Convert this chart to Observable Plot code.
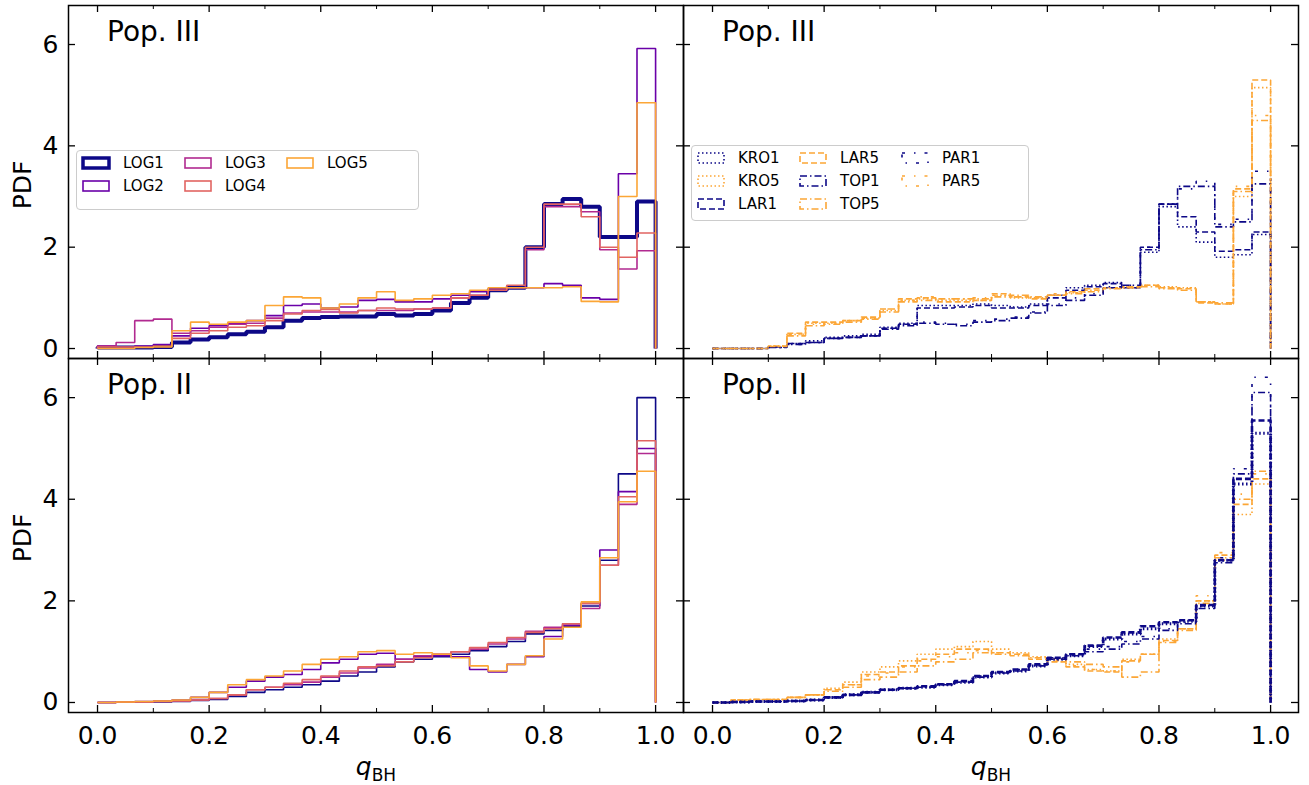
<!DOCTYPE html>
<html>
<head>
<meta charset="utf-8">
<script src="https://cdn.jsdelivr.net/npm/d3@7"></script>
<script src="https://cdn.jsdelivr.net/npm/@observablehq/plot@0.6"></script>
<style>
body { margin: 0; background: #fff; font-family: "DejaVu Sans", sans-serif; }
#wrap { position: relative; width: 1309px; height: 785px; }
.panel { position: absolute; }
.lbl { position: absolute; font-size: 25px; color: #000; }
.pop { font-size: 28px; }
.legend { position: absolute; background: rgba(255,255,255,0.85); border: 1px solid #ccc; border-radius: 4px; font-size: 15px; }
.legend .it { position: absolute; display: flex; align-items: center; gap: 12px; }
</style>
</head>
<body>
<div id="wrap"></div>
<script>
// 30 bins between 0 and 1
const nBins = 30;

// Pop. III, left panel
const log1_III = [0.02,0.02,0.02,0.03,0.12,0.18,0.22,0.28,0.33,0.42,0.55,0.60,0.62,0.63,0.63,0.68,0.65,0.68,0.75,0.90,1.00,1.15,1.20,2.00,2.85,2.95,2.80,2.20,2.20,2.90];
const log2_III = [0.05,0.03,0.05,0.08,0.25,0.40,0.45,0.50,0.55,0.65,0.85,0.88,0.80,0.82,0.95,0.97,0.92,0.92,0.98,1.05,1.12,1.18,1.20,1.20,1.28,1.25,1.00,0.97,3.45,5.92];
const log3_III = [0.05,0.12,0.55,0.58,0.30,0.35,0.42,0.48,0.50,0.60,0.70,0.72,0.72,0.72,0.75,0.75,0.75,0.78,0.80,1.00,1.05,1.15,1.20,1.95,2.80,2.80,2.70,1.95,1.57,1.93];
const log4_III = [0.03,0.03,0.03,0.05,0.20,0.30,0.35,0.42,0.45,0.55,0.68,0.75,0.77,0.70,0.75,0.80,0.78,0.78,0.80,1.00,1.05,1.15,1.25,2.00,2.85,2.85,2.60,2.00,1.80,2.28];
const log5_III = [0.00,0.00,0.02,0.03,0.35,0.52,0.48,0.52,0.55,0.85,1.02,1.00,0.80,0.88,1.00,1.12,0.95,0.98,1.05,1.08,1.15,1.20,1.20,1.20,1.20,1.22,0.93,0.92,3.00,4.85];

// Pop. II, left panel
const log1_II = [0.00,0.01,0.01,0.01,0.02,0.04,0.06,0.12,0.20,0.25,0.30,0.35,0.42,0.52,0.60,0.70,0.80,0.85,0.90,0.95,1.02,1.10,1.20,1.35,1.42,1.50,1.90,2.80,4.50,6.00];
const log2_II = [0.00,0.01,0.02,0.03,0.05,0.10,0.20,0.30,0.42,0.50,0.55,0.65,0.78,0.85,0.95,0.97,0.85,0.90,0.92,0.90,0.65,0.60,0.75,0.90,1.30,1.52,1.95,3.00,4.15,5.00];
const log3_II = [0.00,0.01,0.01,0.02,0.03,0.05,0.08,0.15,0.25,0.30,0.35,0.40,0.50,0.58,0.68,0.75,0.85,0.92,0.95,1.00,1.05,1.15,1.25,1.40,1.48,1.55,1.85,2.70,3.90,4.90];
const log4_II = [0.00,0.01,0.01,0.02,0.03,0.05,0.08,0.15,0.25,0.30,0.38,0.45,0.52,0.62,0.70,0.72,0.80,0.88,0.95,1.00,1.08,1.18,1.28,1.38,1.45,1.55,1.95,2.70,4.05,5.15];
const log5_II = [0.00,0.01,0.02,0.03,0.05,0.10,0.20,0.35,0.45,0.52,0.62,0.75,0.85,0.90,1.00,1.02,0.95,0.98,0.95,0.88,0.72,0.62,0.75,0.92,1.25,1.48,1.98,2.85,3.95,4.55];

// Pop. III, right panel
const kro1_III = [0,0,0,0.03,0.10,0.15,0.22,0.25,0.28,0.42,0.50,0.85,0.85,0.85,0.88,0.85,0.82,0.88,1.05,1.20,1.25,1.30,1.20,1.90,2.80,2.40,2.10,1.80,1.85,2.25];
const lar1_III = [0,0,0,0.03,0.10,0.12,0.20,0.22,0.25,0.40,0.48,0.80,0.80,0.82,0.85,0.80,0.80,0.85,1.00,1.15,1.22,1.28,1.20,2.00,2.85,2.60,2.30,1.92,1.95,2.30];
const top1_III = [0,0,0,0.02,0.08,0.12,0.20,0.22,0.25,0.38,0.45,0.50,0.48,0.45,0.52,0.55,0.60,0.70,0.85,0.95,1.05,1.20,1.25,1.95,2.85,3.20,3.20,2.40,2.50,3.25];
const par1_III = [0,0,0,0.02,0.08,0.12,0.20,0.22,0.25,0.40,0.48,0.52,0.50,0.48,0.55,0.58,0.62,0.72,0.88,1.00,1.08,1.22,1.25,2.00,2.85,3.15,3.30,2.45,2.55,3.50];
const kro5_III = [0,0,0,0.05,0.28,0.50,0.50,0.55,0.60,0.75,0.95,0.98,0.95,0.95,0.95,1.05,1.00,1.00,1.05,1.10,1.15,1.20,1.20,1.25,1.22,1.20,0.92,0.88,3.00,5.15];
const lar5_III = [0,0,0,0.05,0.30,0.52,0.52,0.55,0.62,0.78,0.98,1.00,0.92,0.92,0.95,1.08,1.02,0.98,1.05,1.12,1.18,1.20,1.22,1.25,1.20,1.18,0.90,0.88,3.15,5.30];
const top5_III = [0,0,0,0.04,0.25,0.45,0.48,0.52,0.58,0.72,0.92,0.95,0.98,0.98,0.98,1.02,1.05,1.02,1.05,1.08,1.12,1.18,1.20,1.22,1.18,1.15,0.92,0.90,3.10,4.50];
const par5_III = [0,0,0,0.04,0.28,0.48,0.50,0.55,0.60,0.78,0.95,1.02,0.98,0.98,1.00,1.05,1.02,1.00,1.08,1.10,1.15,1.20,1.22,1.25,1.22,1.20,0.92,0.88,3.20,4.60];

// Pop. II, right panel
const kro1_II = [0,0.01,0.02,0.02,0.03,0.05,0.10,0.15,0.20,0.25,0.28,0.30,0.35,0.40,0.50,0.58,0.62,0.72,0.85,0.92,1.10,1.25,1.35,1.45,1.55,1.60,1.90,2.80,4.30,5.30];
const lar1_II = [0,0.01,0.02,0.02,0.03,0.05,0.10,0.15,0.20,0.25,0.28,0.32,0.36,0.42,0.52,0.60,0.65,0.75,0.88,0.95,1.12,1.28,1.38,1.50,1.58,1.62,1.92,2.80,4.40,5.55];
const top1_II = [0,0.01,0.02,0.02,0.03,0.05,0.10,0.15,0.20,0.25,0.28,0.30,0.35,0.40,0.50,0.58,0.62,0.72,0.85,0.92,1.00,1.05,1.15,1.25,1.42,1.55,1.85,2.75,4.50,6.10];
const par1_II = [0,0.01,0.02,0.02,0.03,0.05,0.10,0.15,0.20,0.25,0.28,0.32,0.36,0.42,0.52,0.60,0.65,0.75,0.88,0.95,1.05,1.10,1.20,1.30,1.45,1.58,1.90,2.85,4.60,6.40];
const kro5_II = [0,0.05,0.06,0.06,0.10,0.15,0.28,0.40,0.60,0.70,0.82,0.95,1.05,1.10,1.20,1.05,0.98,0.90,0.85,0.75,0.65,0.62,0.85,0.95,1.25,1.45,2.00,2.80,3.70,4.30];
const lar5_II = [0,0.05,0.06,0.06,0.10,0.15,0.25,0.35,0.55,0.60,0.72,0.85,0.95,1.05,1.05,0.98,0.95,0.85,0.80,0.70,0.62,0.60,0.82,0.95,1.22,1.45,2.00,2.90,3.90,4.40];
const top5_II = [0,0.05,0.06,0.06,0.10,0.15,0.22,0.30,0.45,0.50,0.60,0.72,0.80,0.85,0.98,0.95,0.92,0.88,0.85,0.80,0.75,0.70,0.50,0.60,1.18,1.42,1.95,2.85,4.00,4.55];
const par5_II = [0,0.05,0.06,0.06,0.10,0.15,0.25,0.35,0.52,0.58,0.70,0.82,0.90,0.98,1.02,0.98,0.95,0.88,0.82,0.72,0.65,0.62,0.80,0.95,1.20,1.45,2.10,2.95,4.10,4.50];

const xTicks = [0, 0.2, 0.4, 0.6, 0.8, 1.0];
const xMinor = [0.1, 0.3, 0.5, 0.7, 0.9];
const yTicks = [0, 2, 4, 6];

const navy = "#0d0887", purple = "#6a00a8", magenta = "#b12a90", salmon = "#e16462", orange = "#fca636";
const dotted = "1.5,2.5", dashed = "6,3", dashdot = "7,3,1.5,3", loosedd = "3,9,1.5,9";

const leftIII = [
  {name: "LOG1", v: log1_III, c: navy, w: 4},
  {name: "LOG2", v: log2_III, c: purple, w: 1.6},
  {name: "LOG3", v: log3_III, c: magenta, w: 1.6},
  {name: "LOG4", v: log4_III, c: salmon, w: 1.6},
  {name: "LOG5", v: log5_III, c: orange, w: 1.6}
];
const leftII = [
  {name: "LOG1", v: log1_II, c: navy, w: 1.6},
  {name: "LOG2", v: log2_II, c: purple, w: 1.6},
  {name: "LOG3", v: log3_II, c: magenta, w: 1.6},
  {name: "LOG4", v: log4_II, c: salmon, w: 1.6},
  {name: "LOG5", v: log5_II, c: orange, w: 1.6}
];
const rightIII = [
  {name: "KRO1", v: kro1_III, c: navy, w: 1.6, d: dotted},
  {name: "KRO5", v: kro5_III, c: orange, w: 1.6, d: dotted},
  {name: "LAR1", v: lar1_III, c: navy, w: 1.6, d: dashed},
  {name: "LAR5", v: lar5_III, c: orange, w: 1.6, d: dashed},
  {name: "TOP1", v: top1_III, c: navy, w: 1.6, d: dashdot},
  {name: "TOP5", v: top5_III, c: orange, w: 1.6, d: dashdot},
  {name: "PAR1", v: par1_III, c: navy, w: 1.6, d: loosedd},
  {name: "PAR5", v: par5_III, c: orange, w: 1.6, d: loosedd}
];
const rightII = [
  {name: "KRO5", v: kro5_II, c: orange, w: 1.6, d: dotted},
  {name: "LAR5", v: lar5_II, c: orange, w: 1.6, d: dashed},
  {name: "TOP5", v: top5_II, c: orange, w: 1.6, d: dashdot},
  {name: "PAR5", v: par5_II, c: orange, w: 1.6, d: loosedd},
  {name: "KRO1", v: kro1_II, c: navy, w: 3, d: dotted},
  {name: "LAR1", v: lar1_II, c: navy, w: 2.6, d: dashed},
  {name: "TOP1", v: top1_II, c: navy, w: 1.6, d: dashdot},
  {name: "PAR1", v: par1_II, c: navy, w: 1.6, d: loosedd}
];

function stepPts(v) {
  const pts = [{x: 0, y: 0}];
  v.forEach((y, i) => pts.push({x: i / nBins, y}));
  pts.push({x: 1, y: v[v.length - 1]});
  pts.push({x: 1, y: 0});
  return pts;
}

const wrap = document.getElementById("wrap");

function panel(series, {left, top, showY, showX}) {
  const W = 615, H = showX ? 354 : 353;
  const mL = showY ? 68 : 0, mR = showY ? 0 : 11, mT = showX ? 0 : 5, mB = showX ? 73 : 0;
  const marks = [];
  series.forEach(s => marks.push(Plot.line(stepPts(s.v), {
    x: "x", y: "y", curve: "step-after", stroke: s.c, strokeWidth: s.w,
    strokeDasharray: s.d, strokeLinejoin: "miter", strokeLinecap: "butt"
  })));
  // inward ticks on all four sides
  marks.push(
    Plot.ruleX(xTicks, {stroke: "black", strokeWidth: 1.3, insetTop: H - 7}),
    Plot.ruleX(xTicks, {stroke: "black", strokeWidth: 1.3, insetBottom: H - 7}),
    Plot.ruleX(xMinor, {stroke: "black", strokeWidth: 1, insetTop: H - 4}),
    Plot.ruleX(xMinor, {stroke: "black", strokeWidth: 1, insetBottom: H - 4}),
    Plot.ruleY(yTicks, {stroke: "black", strokeWidth: 1.3, insetRight: W - 7}),
    Plot.ruleY(yTicks, {stroke: "black", strokeWidth: 1.3, insetLeft: W - 7}),
    Plot.frame({stroke: "black", strokeWidth: 1.5})
  );
  if (showY) marks.push(Plot.axisY(yTicks, {tickSize: 0, tickPadding: 10, fontSize: 25, label: null, tickFormat: d3.format("d")}));
  if (showX) marks.push(Plot.axisX(xTicks, {tickSize: 0, tickPadding: 14, fontSize: 25, label: null, tickFormat: d3.format(".1f")}));
  const chart = Plot.plot({
    width: W + mL + mR, height: H + mT + mB,
    marginLeft: mL, marginRight: mR, marginTop: mT, marginBottom: mB,
    x: {domain: [-0.052, 1.050], axis: null},
    y: {domain: [-0.197, 6.77], axis: null},
    style: {fontFamily: "DejaVu Sans, sans-serif", color: "#000", background: "transparent", overflow: "visible"},
    marks
  });
  chart.classList.add("panel");
  chart.style.left = left + "px";
  chart.style.top = top + "px";
  wrap.append(chart);
}

panel(leftIII, {left: 0, top: 0, showY: true, showX: false});
panel(rightIII, {left: 683, top: 0, showY: false, showX: false});
panel(leftII, {left: 0, top: 358, showY: true, showX: true});
panel(rightII, {left: 683, top: 358, showY: false, showX: true});

function label(html, x, y, extra, cls) {
  const d = document.createElement("div");
  d.className = "lbl" + (cls ? " " + cls : "");
  d.innerHTML = html;
  d.style.left = x + "px";
  d.style.top = y + "px";
  if (extra) Object.assign(d.style, extra);
  wrap.append(d);
}
label("Pop. III", 107, 15, null, "pop");
label("Pop. III", 722, 15, null, "pop");
label("Pop. II", 107, 368, null, "pop");
label("Pop. II", 722, 368, null, "pop");
label("PDF", 22, 185, {transform: "translate(-50%,-50%) rotate(-90deg)"});
label("PDF", 22, 538, {transform: "translate(-50%,-50%) rotate(-90deg)"});
label("<i>q</i><sub style='font-size:17px'>BH</sub>", 376, 768, {transform: "translate(-50%,-50%)"});
label("<i>q</i><sub style='font-size:17px'>BH</sub>", 991, 768, {transform: "translate(-50%,-50%)"});

function legend(items, box, cols) {
  const L = document.createElement("div");
  L.className = "legend";
  Object.assign(L.style, {left: box.x + "px", top: box.y + "px", width: box.w + "px", height: box.h + "px"});
  items.forEach((s, i) => {
    const col = Math.floor(i / cols.rows), row = i % cols.rows;
    const it = document.createElement("div");
    it.className = "it";
    it.style.left = (4 + col * cols.dx) + "px";
    it.style.top = (3 + row * cols.dy) + "px";
    const sw = s.w > 3 ? 3.5 : 1.6;
    it.innerHTML = `<svg width="30" height="16"><rect x="2" y="3" width="26" height="10" fill="none" stroke="${s.c}" stroke-width="${sw}" stroke-dasharray="${s.d || ""}"/></svg><span>${s.name}</span>`;
    L.append(it);
  });
  wrap.append(L);
}
legend(leftIII, {x: 76, y: 150, w: 341, h: 58}, {rows: 2, dx: 102, dy: 23});
legend(rightIII, {x: 691, y: 145, w: 336, h: 74}, {rows: 3, dx: 102, dy: 23});
</script>
</body>
</html>
